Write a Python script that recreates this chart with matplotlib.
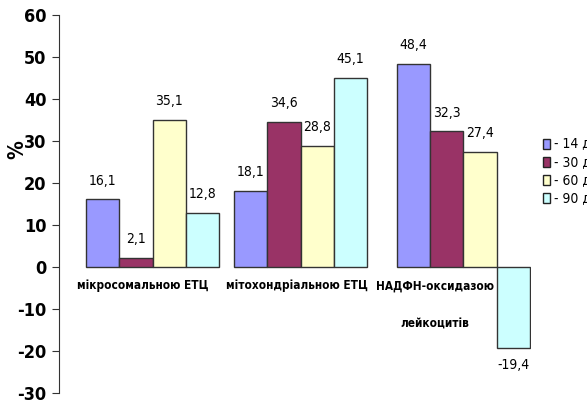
import numpy as np
import matplotlib
matplotlib.use("Agg")
import matplotlib.pyplot as plt
from matplotlib.patches import Patch

plt.rcParams['font.family'] = ['DejaVu Sans']
plt.rcParams['font.stretch'] = 'condensed'
plt.rcParams['axes.unicode_minus'] = False

categories = ["мікросомальною ЕТЦ", "мітохондріальною ЕТЦ", "НАДФН-оксидазою\nлейкоцитів"]
series_names = ["- 14 діб", "- 30 діб", "- 60 діб", "- 90 діб"]
values = {
    "- 14 діб": [16.1, 18.1, 48.4],
    "- 30 діб": [2.1, 34.6, 32.3],
    "- 60 діб": [35.1, 28.8, 27.4],
    "- 90 діб": [12.8, 45.1, -19.4],
}
colors = ["#9999FF", "#993366", "#FFFFCC", "#CCFFFF"]

fig = plt.figure(figsize=(5.87, 4.08), dpi=100)
ax = fig.add_axes([59 / 587, 15 / 408, (531 - 59) / 587, (393 - 15) / 408])

group_x = np.array([0.0, 1.0, 2.1])
label_x = [-0.064, 0.976, 1.909]
w = 0.2257

for i, name in enumerate(series_names):
    xs = group_x + (i - 1.5) * w
    bars = ax.bar(xs, values[name], width=w, color=colors[i],
                  edgecolor="#333333", linewidth=1.0)
    for b, v in zip(bars, values[name]):
        txt = f"{v:.1f}".replace(".", ",")
        if v >= 0:
            ax.annotate(txt, (b.get_x() + w / 2, v), xytext=(0, 8.5),
                        textcoords="offset points", ha="center", va="bottom",
                        fontsize=10)
        else:
            ax.annotate(txt, (b.get_x() + w / 2, v), xytext=(0, -7),
                        textcoords="offset points", ha="center", va="top",
                        fontsize=10)

for x, cat in zip(label_x, categories):
    ax.text(x, -2.9, cat, ha="center", va="top", fontsize=8.5,
            fontweight="bold", linespacing=3.5)

ax.set_xlim(-0.632, 2.557)
ax.set_ylim(-30, 60)
ax.set_yticks(np.arange(-30, 61, 10))
ax.set_xticks([])
for s in ["top", "right", "bottom"]:
    ax.spines[s].set_visible(False)
ax.spines["left"].set_color("#333333")
ax.tick_params(axis="y", direction="out", length=5, width=0.8,
               labelsize=13, color="#333333", pad=4)
for lab in ax.get_yticklabels():
    lab.set_fontweight("bold")

fig.text(17 / 587, 1 - 150 / 408, "%", rotation=90, ha="center", va="center",
         fontsize=15, fontweight="bold")

handles = [Patch(facecolor=c, edgecolor="#222222", label=n)
           for c, n in zip(colors, series_names)]
fig.legend(handles=handles, loc="upper left",
           bbox_to_anchor=(537 / 587, 1 - 132 / 408), frameon=False,
           fontsize=10, handlelength=0.55, handleheight=0.75,
           handletextpad=0.3, labelspacing=0.3, borderaxespad=0)

fig.savefig("out.png", dpi=100)
